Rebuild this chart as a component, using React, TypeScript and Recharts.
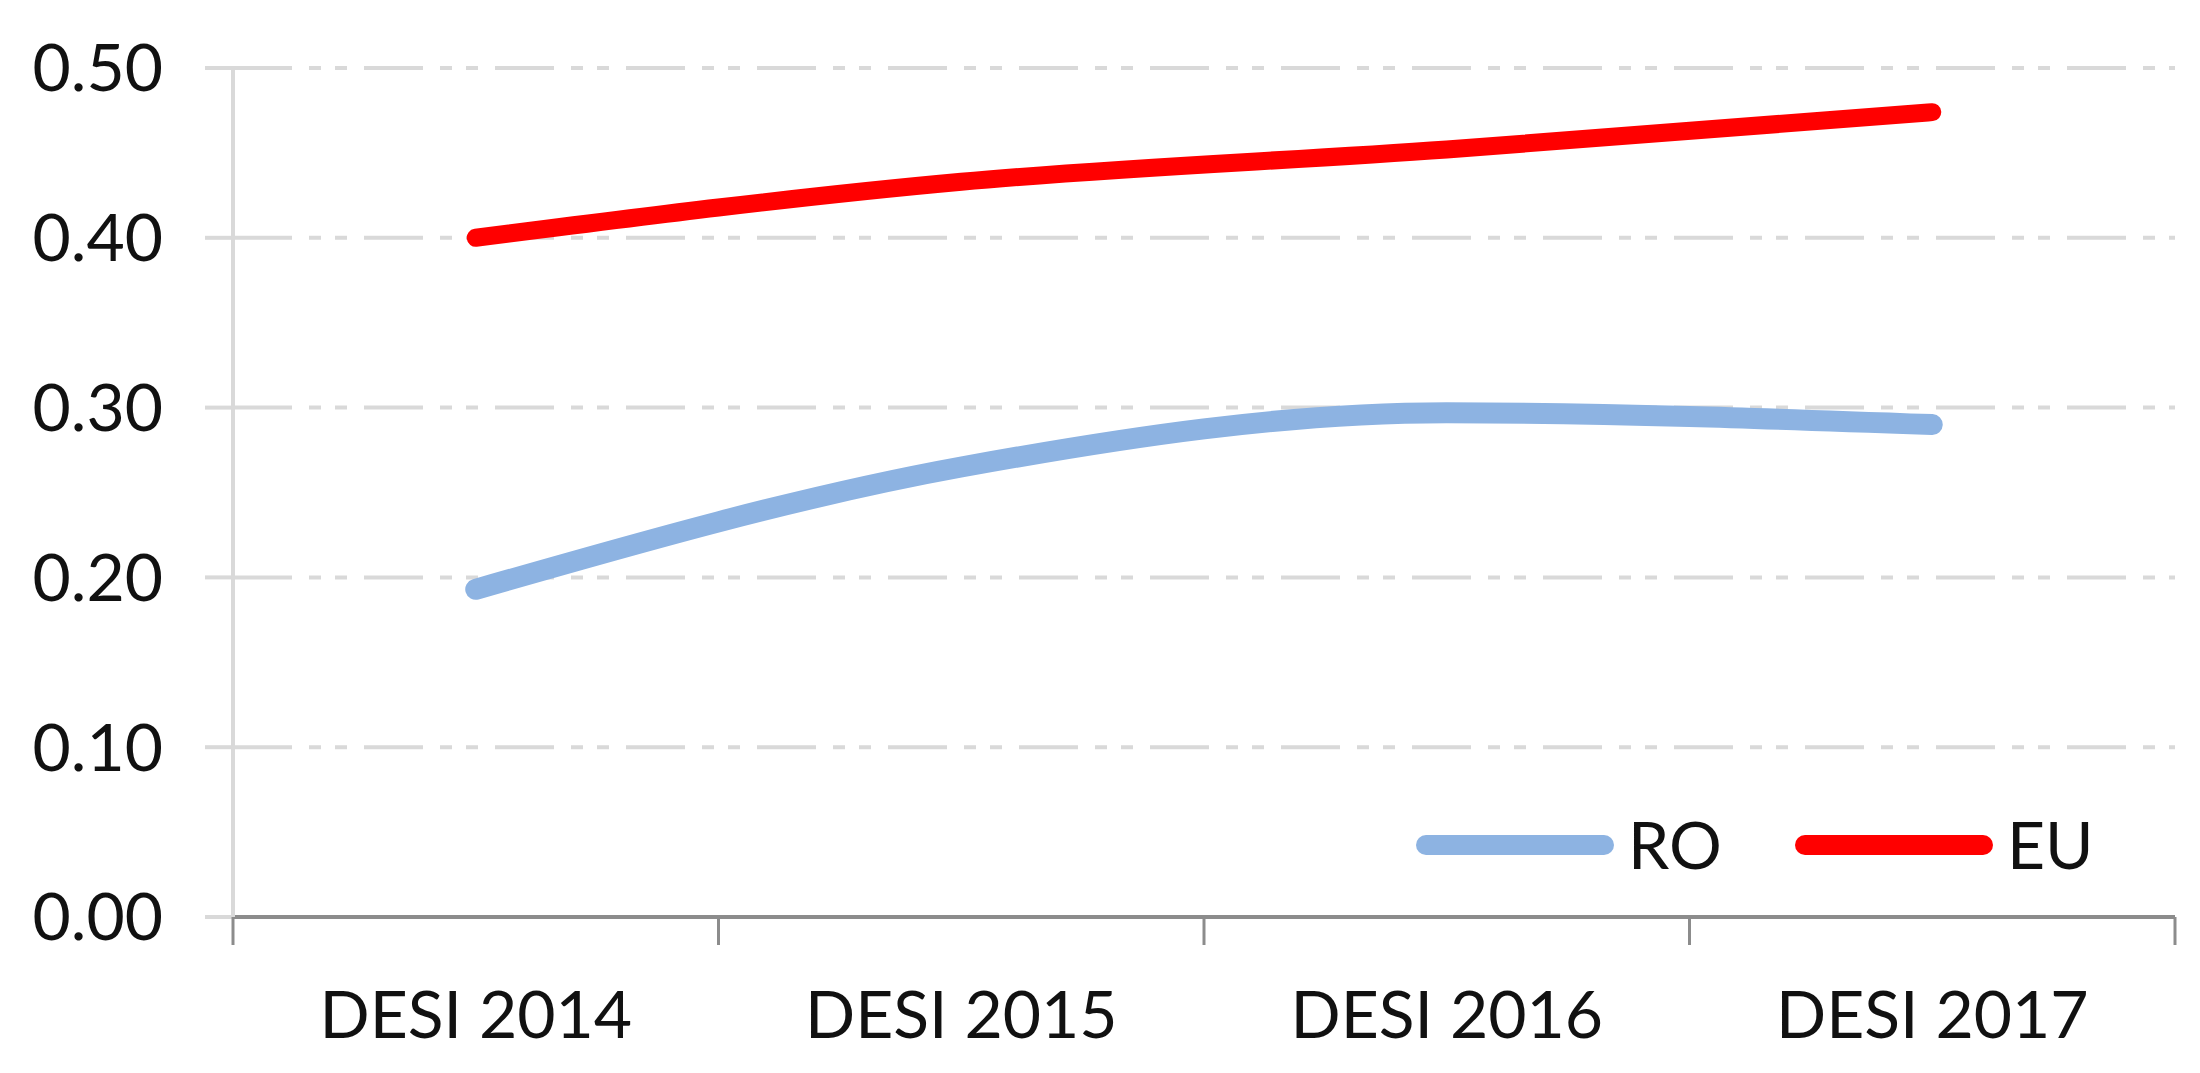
import { LineChart, Line, XAxis, YAxis, CartesianGrid } from "recharts"

const CATEGORIES = ["DESI 2014", "DESI 2015", "DESI 2016", "DESI 2017"]
const RO_VALUES = [0.193, 0.265, 0.297, 0.29]
const EU_VALUES = [0.4, 0.433, 0.452, 0.474]
const Y_TICKS = [0, 0.1, 0.2, 0.3, 0.4, 0.5]

const SERIES = [
  { key: "RO", color: "#8db3e2", width: 21 },
  { key: "EU", color: "#ff0000", width: 18 },
]

const data = CATEGORIES.map((name, i) => ({
  name,
  RO: RO_VALUES[i],
  EU: EU_VALUES[i],
}))

const W = 2200
const H = 1073
const PLOT_LEFT = 233
const PLOT_RIGHT = 2175
const PLOT_TOP = 68
const PLOT_BOTTOM = 917
const HALF = (PLOT_RIGHT - PLOT_LEFT) / CATEGORIES.length / 2

const FONT = "Lato, 'Open Sans', sans-serif"
const GRID = "#d9d9d9"
const AXIS_DARK = "#8c8c8c"

function XTick(props: any) {
  const { x, y, payload, index } = props
  return (
    <g>
      <line x1={x - HALF} x2={x - HALF} y1={y} y2={y + 28} stroke={AXIS_DARK} strokeWidth={3} />
      {index === CATEGORIES.length - 1 && (
        <line x1={x + HALF} x2={x + HALF} y1={y} y2={y + 28} stroke={AXIS_DARK} strokeWidth={3} />
      )}
      <text x={x} y={y + 121} textAnchor="middle" fontFamily={FONT} fontSize={66} fill="#111">
        {payload.value}
      </text>
    </g>
  )
}

export default function App() {
  return (
    <div style={{ position: "absolute", left: 0, top: 0, width: W, height: H, background: "#fff" }}>
      <LineChart
        width={W}
        height={H}
        data={data}
        margin={{ top: PLOT_TOP, right: W - PLOT_RIGHT, bottom: 0, left: 0 }}
      >
        <CartesianGrid
          vertical={false}
          stroke={GRID}
          strokeWidth={4}
          strokeDasharray="59 17 12 14 12 17"
        />
        <XAxis
          dataKey="name"
          height={H - PLOT_BOTTOM}
          padding={{ left: HALF, right: HALF }}
          axisLine={{ stroke: AXIS_DARK, strokeWidth: 4 }}
          tickLine={false}
          tickSize={0}
          tickMargin={0}
          tick={<XTick />}
          interval={0}
        />
        <YAxis
          width={PLOT_LEFT}
          domain={[0, 0.5]}
          ticks={Y_TICKS}
          tickFormatter={(v: number) => v.toFixed(2)}
          axisLine={{ stroke: GRID, strokeWidth: 4 }}
          tickLine={{ stroke: GRID, strokeWidth: 4 }}
          tickSize={28}
          tickMargin={42}
          tick={{ fontFamily: FONT, fontSize: 66, fill: "#111" }}
        />
        {SERIES.map((s) => (
          <Line
            key={s.key}
            type="monotone"
            dataKey={s.key}
            stroke={s.color}
            strokeWidth={s.width}
            strokeLinecap="round"
            strokeLinejoin="round"
            dot={false}
            activeDot={false}
            isAnimationActive={false}
          />
        ))}
      </LineChart>

      {/* legend, bottom right inside plot */}
      <svg
        width={W}
        height={H}
        style={{ position: "absolute", left: 0, top: 0, pointerEvents: "none" }}
      >
        {SERIES.map((s, i) => {
          const x0 = 1426 + i * 379
          return (
            <g key={s.key}>
              <line x1={x0} x2={x0 + 178} y1={845} y2={845} stroke={s.color} strokeWidth={20} strokeLinecap="round" />
              <text x={x0 + 202} y={869} fontFamily={FONT} fontSize={66} fill="#111">
                {s.key}
              </text>
            </g>
          )
        })}
      </svg>
    </div>
  )
}
